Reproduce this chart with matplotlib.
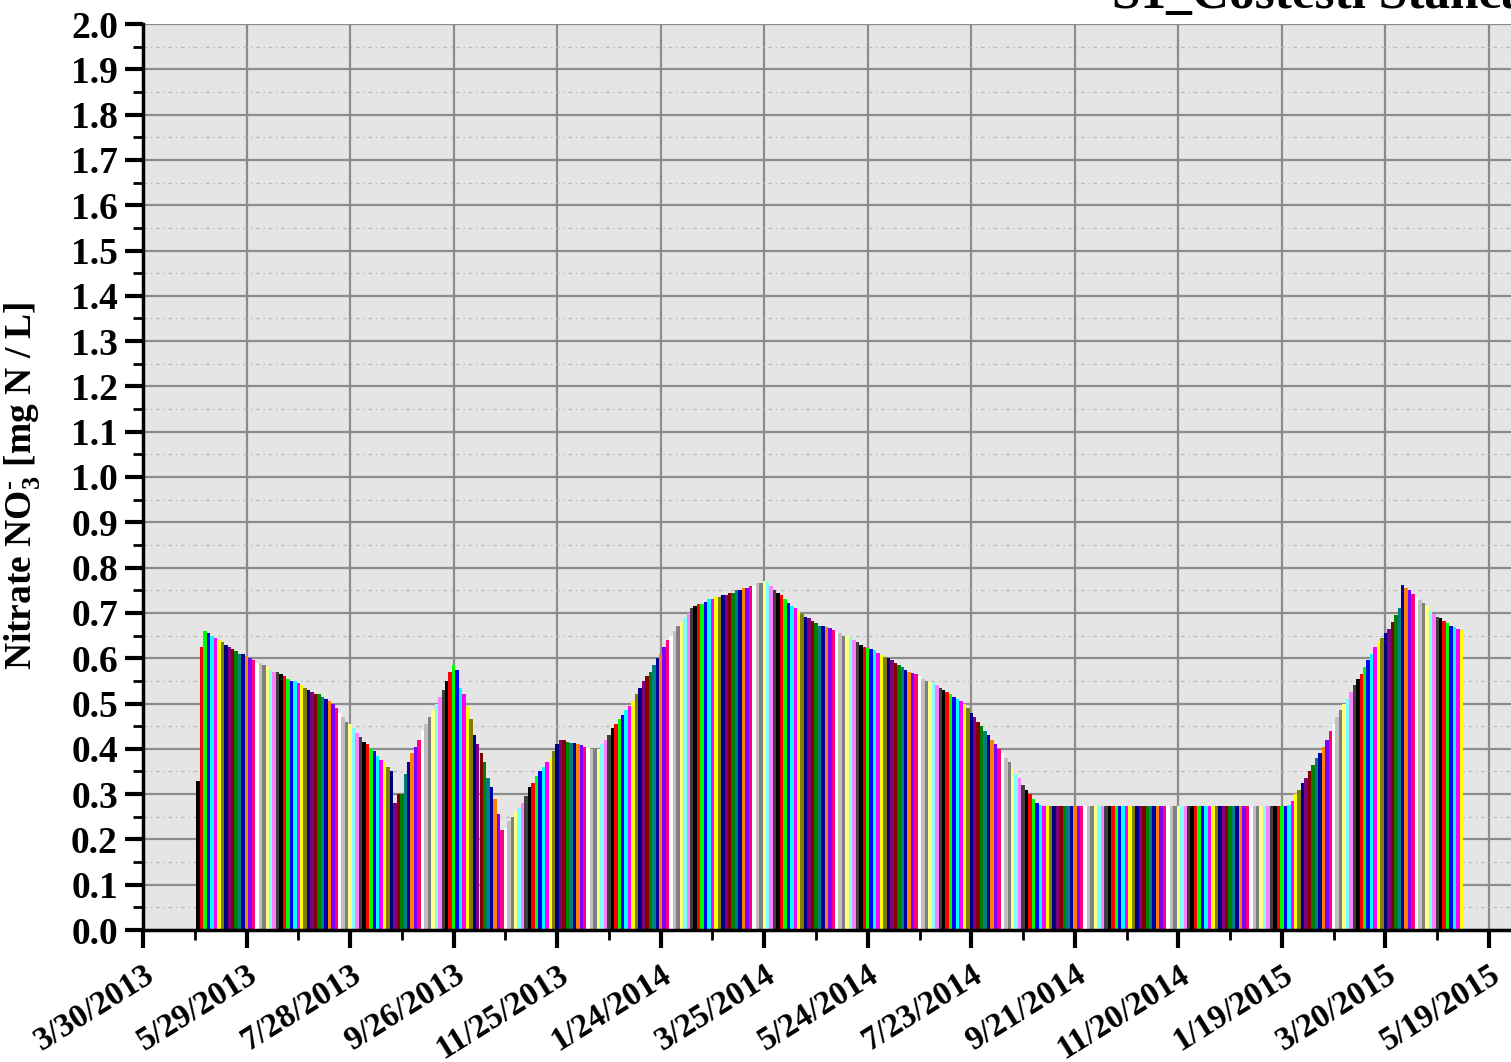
import datetime as dt
import matplotlib
matplotlib.use("Agg")
import matplotlib.pyplot as plt
import matplotlib.dates as mdates
from matplotlib.ticker import MultipleLocator, FixedLocator

# nitrate, one sample every second day starting 30 Apr 2013
start_date = dt.date(2013, 4, 30)
step_days = 2
nitrate = [
    0.33, 0.625, 0.66, 0.655, 0.65, 0.645, 0.64, 0.635, 0.63, 0.625,
    0.62, 0.615, 0.61, 0.61, 0.605, 0.60, 0.595, 0.59, 0.59, 0.585,
    0.58, 0.575, 0.57, 0.57, 0.565, 0.56, 0.555, 0.55, 0.55, 0.545,
    0.54, 0.535, 0.53, 0.525, 0.52, 0.52, 0.515, 0.51, 0.505, 0.50,
    0.49, 0.48, 0.47, 0.46, 0.455, 0.445, 0.435, 0.425, 0.415, 0.41,
    0.40, 0.395, 0.385, 0.375, 0.37, 0.36, 0.35, 0.28, 0.30, 0.30,
    0.345, 0.37, 0.39, 0.405, 0.42, 0.44, 0.455, 0.47, 0.485, 0.50,
    0.515, 0.53, 0.55, 0.57, 0.585, 0.575, 0.535, 0.52, 0.495, 0.465,
    0.43, 0.41, 0.39, 0.37, 0.335, 0.315, 0.29, 0.255, 0.22, 0.225,
    0.24, 0.25, 0.26, 0.27, 0.28, 0.295, 0.315, 0.325, 0.34, 0.35,
    0.36, 0.37, 0.38, 0.395, 0.41, 0.42, 0.42, 0.415, 0.413, 0.413,
    0.41, 0.408, 0.403, 0.402, 0.40, 0.40, 0.40, 0.41, 0.42, 0.43,
    0.445, 0.455, 0.465, 0.475, 0.485, 0.495, 0.505, 0.52, 0.535, 0.55,
    0.56, 0.57, 0.585, 0.60, 0.61, 0.625, 0.64, 0.65, 0.66, 0.67,
    0.68, 0.69, 0.70, 0.71, 0.715, 0.72, 0.72, 0.725, 0.73, 0.73,
    0.735, 0.735, 0.74, 0.74, 0.745, 0.745, 0.75, 0.75, 0.755, 0.755,
    0.76, 0.76, 0.765, 0.765, 0.77, 0.77, 0.76, 0.75, 0.745, 0.74,
    0.73, 0.722, 0.716, 0.71, 0.705, 0.698, 0.692, 0.688, 0.682, 0.677,
    0.672, 0.67, 0.668, 0.666, 0.663, 0.66, 0.655, 0.65, 0.648, 0.645,
    0.64, 0.635, 0.63, 0.625, 0.622, 0.62, 0.617, 0.612, 0.608, 0.603,
    0.60, 0.595, 0.59, 0.585, 0.58, 0.575, 0.57, 0.568, 0.565, 0.56,
    0.555, 0.55, 0.547, 0.545, 0.54, 0.535, 0.53, 0.525, 0.52, 0.515,
    0.51, 0.505, 0.50, 0.49, 0.48, 0.47, 0.46, 0.45, 0.44, 0.43,
    0.42, 0.41, 0.40, 0.39, 0.38, 0.37, 0.355, 0.345, 0.335, 0.32,
    0.31, 0.30, 0.29, 0.28, 0.275, 0.274, 0.274, 0.274, 0.274, 0.274,
    0.274, 0.274, 0.274, 0.274, 0.274, 0.274, 0.274, 0.274, 0.274, 0.274,
    0.274, 0.274, 0.274, 0.274, 0.274, 0.274, 0.274, 0.274, 0.274, 0.274,
    0.274, 0.274, 0.274, 0.274, 0.274, 0.274, 0.274, 0.274, 0.274, 0.274,
    0.274, 0.274, 0.274, 0.274, 0.274, 0.274, 0.274, 0.274, 0.274, 0.274,
    0.274, 0.274, 0.274, 0.274, 0.274, 0.274, 0.274, 0.274, 0.274, 0.274,
    0.274, 0.274, 0.274, 0.274, 0.274, 0.274, 0.274, 0.274, 0.274, 0.274,
    0.274, 0.274, 0.274, 0.274, 0.274, 0.274, 0.275, 0.285, 0.30, 0.31,
    0.325, 0.335, 0.35, 0.365, 0.38, 0.39, 0.405, 0.42, 0.44, 0.455,
    0.47, 0.485, 0.50, 0.51, 0.525, 0.54, 0.555, 0.565, 0.58, 0.595,
    0.61, 0.625, 0.635, 0.645, 0.655, 0.665, 0.68, 0.695, 0.71, 0.762,
    0.755, 0.75, 0.742, 0.735, 0.728, 0.722, 0.715, 0.705, 0.698, 0.692,
    0.688, 0.682, 0.677, 0.672, 0.668, 0.665, 0.663,
]

# Origin-style colour list that the bars cycle through
bar_colors = [
    "#000000", "#FF0000", "#00FF00", "#0000FF", "#00FFFF", "#FF00FF",
    "#FFFF00", "#808000", "#000080", "#800080", "#800000", "#008000",
    "#008080", "#0000A0", "#FF8000", "#8000FF", "#FF0080", "#FFFFFF",
    "#C0C0C0", "#808080", "#FFFF80", "#80FFFF", "#FF80FF", "#404040",
]

axis_start = dt.date(2013, 3, 30)
tick_every = 60
ylabel = r"Nitrate NO$_3^{\text{-}}$ [mg N / L]"
title = "S1_Costesti Stanca"

plt.rcParams["font.family"] = ["Liberation Serif", "DejaVu Serif"]
plt.rcParams["font.weight"] = "bold"
plt.rcParams["mathtext.fontset"] = "custom"
plt.rcParams["mathtext.rm"] = "Liberation Serif:bold"
plt.rcParams["mathtext.it"] = "Liberation Serif:bold"
plt.rcParams["mathtext.bf"] = "Liberation Serif:bold"

W, H = 1511, 1062
fig = plt.figure(figsize=(W / 100, H / 100), dpi=100)
left_px, right_px, top_px, bottom_px = 143, 1560, 24, 930
ax = fig.add_axes([left_px / W, 1 - bottom_px / H,
                   (right_px - left_px) / W, (bottom_px - top_px) / H])
ax.set_facecolor("#e5e5e5")

dates = [start_date + dt.timedelta(days=step_days * i) for i in range(len(nitrate))]
xnum = mdates.date2num(dates)
colors = [bar_colors[i % len(bar_colors)] for i in range(len(nitrate))]
ax.bar(xnum, nitrate, width=step_days, align="edge", color=colors,
       linewidth=0, antialiased=False, zorder=3)

# x axis: ticks every 60 days from the axis start
x0 = mdates.date2num(axis_start)
px_per_day = (1489 - left_px) / 780.0
ax.set_xlim(x0, x0 + (right_px - left_px) / px_per_day)
major_dates = [axis_start + dt.timedelta(days=tick_every * k) for k in range(15)]
minor_dates = [axis_start + dt.timedelta(days=tick_every * k + tick_every // 2) for k in range(14)]
ax.xaxis.set_major_locator(FixedLocator(mdates.date2num(major_dates)))
ax.xaxis.set_minor_locator(FixedLocator(mdates.date2num(minor_dates)))
ax.set_xticklabels([f"{d.month}/{d.day}/{d.year}" for d in major_dates],
                   rotation=32, ha="right", rotation_mode="anchor",
                   fontsize=24, fontweight="bold")

ax.set_ylim(0, 2.0)
ax.yaxis.set_major_locator(MultipleLocator(0.1))
ax.yaxis.set_minor_locator(MultipleLocator(0.05))
ax.yaxis.set_major_formatter(matplotlib.ticker.FormatStrFormatter("%.1f"))
for lab in ax.get_yticklabels():
    lab.set_fontsize(27)
    lab.set_fontweight("bold")

ax.tick_params(axis="both", which="major", direction="out", length=13, width=3, color="black")
ax.tick_params(axis="both", which="minor", direction="out", length=7, width=2, color="black")
ax.tick_params(axis="x", which="major", pad=8)
ax.tick_params(axis="y", which="major", pad=5)

ax.grid(True, which="major", color="#8c8c8c", linewidth=1.6, zorder=0)
ax.grid(True, which="minor", axis="y", color="#b8b8b8", linewidth=0.9,
        linestyle=(0, (3, 3, 1, 3)), zorder=0)
ax.set_axisbelow(True)

for side in ("top", "right"):
    ax.spines[side].set_visible(False)
for side in ("left", "bottom"):
    ax.spines[side].set_linewidth(2.5)
    ax.spines[side].set_color("black")
    ax.spines[side].set_zorder(5)

ax.set_ylabel(ylabel, fontsize=27, fontweight="bold")
ax.yaxis.set_label_coords(-(left_px - 42) / (right_px - left_px), 0.49)

fig.text(1112 / W, 1 - 8 / H, title, fontsize=37, fontweight="bold",
         ha="left", va="baseline")

fig.savefig("out.png", dpi=100)
